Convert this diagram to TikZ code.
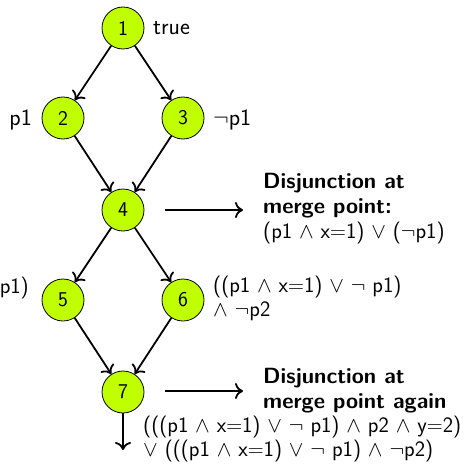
\RequirePackage{fix-cm}
\documentclass[tikz,border=0pt]{standalone}
\usepackage{fontspec}
\usetikzlibrary{arrows.meta}
\definecolor{lime1}{RGB}{192,255,0}
\begin{document}
\begin{tikzpicture}[x=1pt,y=-1pt,
  st/.style={circle,draw=black,line width=0.8pt,fill=lime1,minimum size=42pt,inner sep=0pt,font=\sffamily\fontsize{21}{24}\selectfont},
  arr/.style={-{To[length=8pt,width=16pt]},line width=1.8pt},
  lab/.style={font=\sffamily\fontsize{22}{25}\selectfont,inner sep=0pt,align=left,anchor=base west},
  biglab/.style={lab,font=\sffamily\fontsize{23.5}{25}\selectfont}]
\useasboundingbox (0,0) rectangle (468,468);
\node[st] (n1) at (123,28) {1};
\node[st] (n2) at (63,118) {2};
\node[st] (n3) at (183,118) {3};
\node[st] (n4) at (123,210) {4};
\node[st] (n5) at (63,300) {5};
\node[st] (n6) at (183,300) {6};
\node[st] (n7) at (123,392) {7};
\coordinate (end7) at (123,450);
\coordinate (a1s) at (165,210);
\coordinate (a1e) at (243,210);
\coordinate (a2s) at (165,391);
\coordinate (a2e) at (243,391);
\draw[arr] (n1) -- (n2);
\draw[arr] (n1) -- (n3);
\draw[arr] (n2) -- (n4);
\draw[arr] (n3) -- (n4);
\draw[arr] (n4) -- (n5);
\draw[arr] (n4) -- (n6);
\draw[arr] (n5) -- (n7);
\draw[arr] (n6) -- (n7);
\draw[arr] (n7) -- (end7);
\draw[arr] (a1s) -- (a1e);
\draw[arr] (a2s) -- (a2e);
\node[biglab] (t1) at (153,35) {true};
\node[biglab,anchor=base east] (t2) at (32,125) {p1};
\node[biglab] (t3) at (213,125) {$\neg$p1};
\node[lab,anchor=base east] (t5) at (29,293) {p1)};
\node[lab,font=\sffamily\fontsize{22}{23.5}\selectfont] (t6) at (213,316) {((p1 $\wedge$ x$=$1) $\vee$ $\neg$ p1)\\$\wedge$ $\neg$p2};
\node[lab] (d1) at (263,238) {\textbf{Disjunction at}\\\textbf{merge point:}\\(p1 $\wedge$ x$=$1) $\vee$ ($\neg$p1)};
\node[lab] (d2) at (263,408) {\textbf{Disjunction at}\\\textbf{merge point again}};
\node[lab,font=\sffamily\fontsize{22}{23.5}\selectfont] (d3) at (143,456) {(((p1 $\wedge$ x$=$1) $\vee$ $\neg$ p1) $\wedge$ p2 $\wedge$ y$=$2)\\$\vee$ (((p1 $\wedge$ x$=$1) $\vee$ $\neg$ p1) $\wedge$ $\neg$p2)};
\end{tikzpicture}
\end{document}
